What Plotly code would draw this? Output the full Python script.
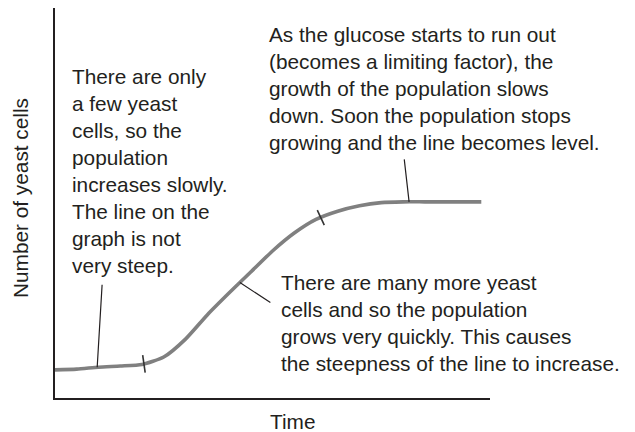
import numpy as np
import plotly.graph_objects as go

# ---- data (arbitrary units) ----
time = [0, 5, 10, 15, 20, 25, 30, 35, 40, 45, 50, 55, 60, 65, 70, 75, 80, 85, 90, 95, 98]
cells = [7.2, 7.4, 7.9, 8.2, 8.6, 10.5, 15.1, 21.3, 26.9, 32.3, 37.7, 42.3, 45.8, 47.9, 49.3,
         50.1, 50.3, 50.3, 50.3, 50.3, 50.3]
phase_ticks = [20.5, 61.1]          # boundaries between growth phases
leader_times = [9.7, 42.5, 81.4]    # points on the curve the labels refer to

x_title = "Time"
y_title = "Number of yeast cells"
label_slow = ("There are only<br>a few yeast<br>cells, so the<br>population<br>increases slowly.<br>"
              "The line on the<br>graph is not<br>very steep.")
label_fast = ("There are many more yeast<br>cells and so the population<br>"
              "grows very quickly. This causes<br>the steepness of the line to increase.")
label_level = ("As the glucose starts to run out<br>(becomes a limiting factor), the<br>"
               "growth of the population slows<br>down. Soon the population stops<br>"
               "growing and the line becomes level.")

FONT = "Helvetica, Arial, Liberation Sans, sans-serif"
TXT = "#231f20"
FS = 20.8

fig = go.Figure()
fig.add_trace(go.Scatter(x=time, y=cells, mode="lines",
                         line=dict(color="#808080", width=3.6, shape="spline", smoothing=0.6),
                         hoverinfo="skip", showlegend=False))

def on_curve(t):
    return float(np.interp(t, time, cells))

# phase tick marks (pixel-sized, anchored on the curve)
tick_offsets = [(-1.5, 8.5, 1.0, -9.0), (-3.5, 7.5, 3.5, -7.5)]
for t, (a, b, c, d) in zip(phase_ticks, tick_offsets):
    fig.add_shape(type="line", xref="x", yref="y", xsizemode="pixel", ysizemode="pixel",
                  xanchor=t, yanchor=on_curve(t), x0=a, y0=b, x1=c, y1=d,
                  line=dict(color="#333333", width=1.6))

# leader lines
leader_offsets = [(5, -84), (32, 21), (-5, -44)]
for t, (ax, ay) in zip(leader_times, leader_offsets):
    fig.add_annotation(x=t, y=on_curve(t), xref="x", yref="y", text="", showarrow=True,
                       arrowhead=0, arrowwidth=1.2, arrowcolor="#231f20", ax=ax, ay=ay, standoff=0)

def label(text, x, y, **kw):
    fig.add_annotation(text=text, x=x, y=y, xref="paper", yref="paper", showarrow=False,
                       align="left", xanchor="left", yanchor="top",
                       font=dict(family=FONT, size=FS, color=TXT), **kw)

label(label_slow, 0.0345, 0.860)
label(label_level, 0.487, 0.966)
label(label_fast, 0.514, 0.331)

fig.add_annotation(text=x_title, x=(292.5 - 55) / 435, y=(398 - 421) / 390, xref="paper", yref="paper",
                   showarrow=False, xanchor="center", yanchor="middle",
                   font=dict(family=FONT, size=FS, color=TXT))
fig.add_annotation(text=y_title, x=(20 - 55) / 435, y=(398 - 198) / 390, xref="paper", yref="paper",
                   showarrow=False, xanchor="center", yanchor="middle", textangle=-90,
                   font=dict(family=FONT, size=FS, color=TXT))

axis_common = dict(showgrid=False, zeroline=False, showticklabels=False, ticks="",
                   showline=True, linecolor="#231f20", linewidth=2, fixedrange=True)
fig.update_xaxes(range=[0, 100], **axis_common)
fig.update_yaxes(range=[0, 100], **axis_common)

# the page adds an 8px body margin, so the figure is shifted back by 8px
fig.update_layout(width=635, height=432, margin=dict(l=47, r=153, t=0, b=42),
                  paper_bgcolor="white", plot_bgcolor="white", showlegend=False)

fig.write_html("out.html")
